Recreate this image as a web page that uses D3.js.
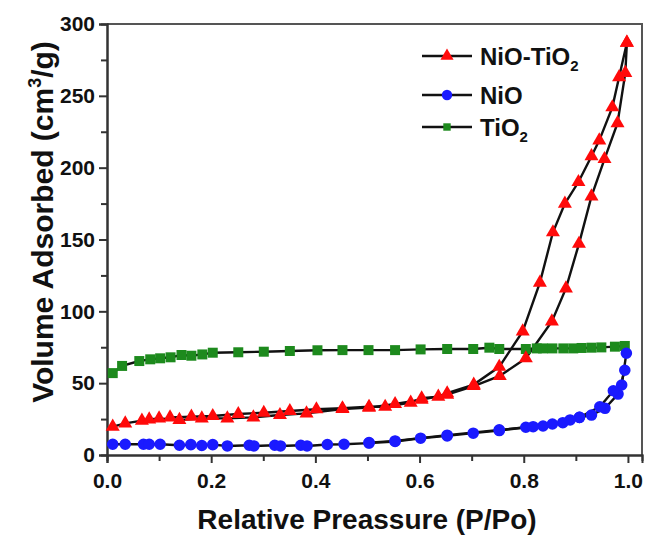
<!DOCTYPE html>
<meta charset="utf-8">
<style>
body { margin: 0; background: #fff; }
text { font-family: "Liberation Sans", Arial, sans-serif; font-weight: bold; fill: #111; }
.axis path, .axis line { stroke: #333; stroke-width: 2px; }
</style>
<svg width="649" height="540"></svg>
<script src="https://d3js.org/d3.v7.min.js"></script>
<script>

// NiO-TiO2 adsorption / desorption branches
var mixAdsX = [0.011,0.035,0.067,0.081,0.1,0.139,0.182,0.231,0.281,0.332,0.383,0.452,0.503,0.553,0.604,0.653,0.704,0.754,0.804,0.854,0.881,0.906,0.93,0.955,0.98,0.995,0.998];
var mixAdsY = [19.7,22,23.9,24.8,25.5,24.4,25.5,25.5,26.2,27.8,29,32,33,35.5,38.5,42,48,55,67.3,93,116,147,180,206,231,266,287];
var mixDesX = [0.998,0.983,0.97,0.945,0.93,0.905,0.879,0.856,0.831,0.798,0.753,0.704,0.653,0.636,0.604,0.583,0.534,0.503,0.452,0.402,0.351,0.301,0.252,0.203,0.162,0.121];
var mixDesY = [287,263,242,219,208,190,175,155,120,86,61.4,49,43,40.6,39.5,36.4,33.6,33.6,32.5,31.8,30.6,29.4,28.5,27.1,26.7,26.2];

// NiO
var nioAdsX = [0.011,0.035,0.07,0.081,0.102,0.139,0.161,0.182,0.203,0.231,0.273,0.282,0.322,0.333,0.372,0.384,0.423,0.455,0.503,0.553,0.602,0.653,0.703,0.753,0.804,0.837,0.875,0.907,0.930,0.956,0.981,0.994];
var nioAdsY = [7.5,7.5,7.5,7.5,7.5,6.8,7.2,6.6,7.2,6.3,6.8,6.3,6.8,6.3,6.8,6.3,7.3,7.5,8.3,9.4,11.7,13.3,15.2,17,19.3,20.2,22.5,26.2,27.8,32.5,42.4,59];
var nioDesX = [0.997,0.988,0.972,0.946,0.907,0.889,0.855,0.818,0.753,0.653,0.553,0.503];
var nioDesY = [70.8,48.7,44.7,33.6,26.2,24.4,21.6,19.7,17.5,13.8,9.8,8.6];

// TiO2
var tioX = [0.011,0.029,0.062,0.083,0.102,0.122,0.143,0.162,0.183,0.203,0.252,0.301,0.351,0.404,0.452,0.502,0.553,0.602,0.653,0.703,0.734,0.753,0.804,0.825,0.837,0.855,0.876,0.895,0.911,0.930,0.949,0.975,0.994];
var tioY = [57,62,65.4,66.6,67.3,68,69.6,69.1,70,71.2,71.5,71.9,72.4,72.9,73,73,73,73.5,73.8,73.8,74.7,73.8,73.8,74.2,74.2,74.2,74.2,74.2,74.5,74.7,74.9,75.4,75.9];

var xMajor = [0, 0.2, 0.4, 0.6, 0.8, 1.0];
var xMinor = [0.1, 0.3, 0.5, 0.7, 0.9];
var yMajor = [0, 50, 100, 150, 200, 250, 300];
var yMinor = [25, 75, 125, 175, 225, 275];

var mLeft = 107, mRight = 642, mTop = 24, mBottom = 455;

var svg = d3.select("svg");

var x = d3.scaleLinear().domain([0, 1.027]).range([mLeft, mRight]);
var y = d3.scaleLinear().domain([0, 300]).range([mBottom, mTop]);

// frame (top and right)
svg.append("path")
  .attr("d", "M" + mLeft + "," + mTop + "H" + mRight + "V" + mBottom)
  .attr("fill", "none").attr("stroke", "#555").attr("stroke-width", 2);

// axes: minor ticks first, then majors with labels
svg.append("g").attr("class", "axis")
  .attr("transform", "translate(0," + mBottom + ")")
  .call(d3.axisBottom(x).tickValues(xMinor).tickSize(6).tickFormat(""));
svg.append("g").attr("class", "axis")
  .attr("transform", "translate(0," + mBottom + ")")
  .call(d3.axisBottom(x).tickValues(xMajor).tickSize(8).tickPadding(10).tickFormat(d3.format(".1f")));
svg.append("g").attr("class", "axis")
  .attr("transform", "translate(" + mLeft + ",0)")
  .call(d3.axisLeft(y).tickValues(yMinor).tickSize(6).tickFormat(""));
svg.append("g").attr("class", "axis")
  .attr("transform", "translate(" + mLeft + ",0)")
  .call(d3.axisLeft(y).tickValues(yMajor).tickSize(8).tickPadding(4));
svg.selectAll(".tick text").attr("fill", "#111")
  .style("font-size", "21px").style("font-family", "'Liberation Sans', Arial, sans-serif");

var line = d3.line().x(function(d) { return x(d[0]); }).y(function(d) { return y(d[1]); });
function pts(xs, ys) { return xs.map(function(v, i) { return [v, ys[i]]; }); }

var series = [
  { data: [pts(tioX, tioY)], sym: d3.symbolSquare, size: 100, color: "#1d8a1d" },
  { data: [pts(nioAdsX, nioAdsY), pts(nioDesX, nioDesY)], sym: d3.symbolCircle, size: 105, color: "#1a1aff" },
  { data: [pts(mixAdsX, mixAdsY), pts(mixDesX, mixDesY)], sym: d3.symbolTriangle, size: 85, color: "#ff0a0a" }
];

// lines under all markers
series.forEach(function(s) {
  s.data.forEach(function(d) {
    svg.append("path").attr("d", line(d))
      .attr("fill", "none").attr("stroke", "#111").attr("stroke-width", 2.4);
  });
});
series.forEach(function(s) {
  s.data.forEach(function(d) {
    svg.append("g").selectAll("path").data(d).enter().append("path")
      .attr("transform", function(p) { return "translate(" + x(p[0]) + "," + y(p[1]) + ")"; })
      .attr("d", d3.symbol().type(s.sym).size(s.size))
      .attr("fill", s.color);
  });
});

// legend
var legend = [
  { name: "NiO-TiO", sub: "2", sym: d3.symbolTriangle, size: 75, color: "#ff0a0a", ly: 56 },
  { name: "NiO", sub: "", sym: d3.symbolCircle, size: 85, color: "#1a1aff", ly: 95 },
  { name: "TiO", sub: "2", sym: d3.symbolSquare, size: 55, color: "#1d8a1d", ly: 127 }
];
legend.forEach(function(l) {
  var g = svg.append("g").attr("transform", "translate(0," + l.ly + ")");
  g.append("line").attr("x1", 422).attr("x2", 472).attr("stroke", "#111").attr("stroke-width", 2.4);
  g.append("path").attr("transform", "translate(447,0)")
    .attr("d", d3.symbol().type(l.sym).size(l.size)).attr("fill", l.color);
  var t = g.append("text").attr("x", 480).attr("y", 9).style("font-size", "24px").text(l.name);
  if (l.sub) t.append("tspan").attr("dy", 6).style("font-size", "15px").text(l.sub);
});

// axis titles
svg.append("text").attr("x", 367).attr("y", 529)
  .attr("text-anchor", "middle").style("font-size", "28px").text("Relative Preassure (P/Po)");

var yl = svg.append("text").attr("transform", "translate(53,222) rotate(-90)")
  .attr("text-anchor", "middle").style("font-size", "30px");
yl.append("tspan").text("Volume Adsorbed (cm");
yl.append("tspan").attr("dy", -12).style("font-size", "18px").text("3");
yl.append("tspan").attr("dy", 12).text("/g)");

</script>
